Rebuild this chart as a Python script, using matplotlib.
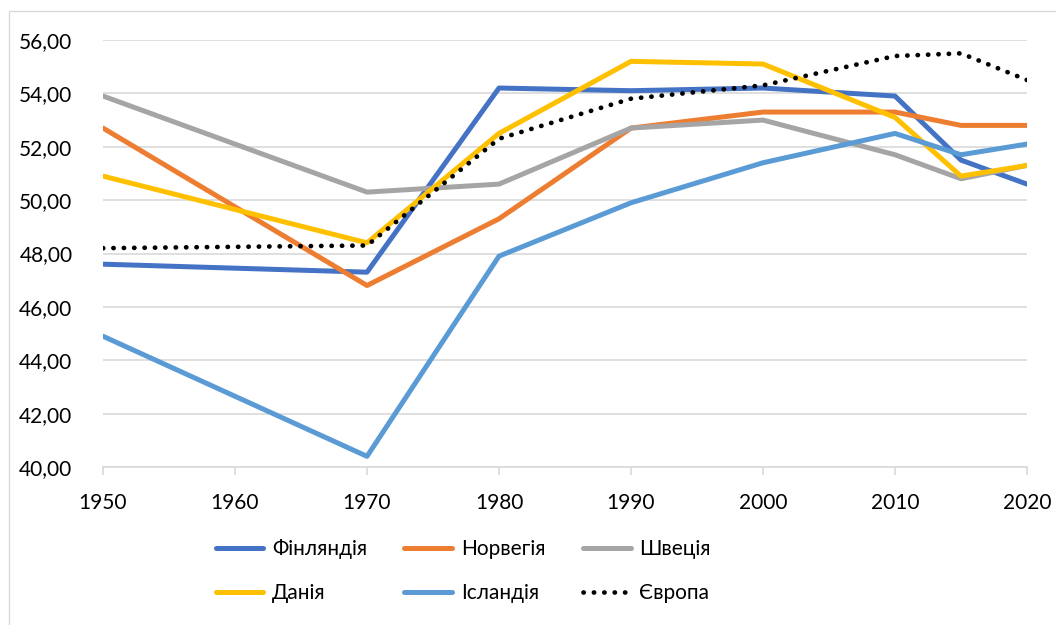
import matplotlib.pyplot as plt
from matplotlib.patches import Rectangle
from matplotlib.ticker import FuncFormatter

years = [1950, 1970, 1980, 1990, 2000, 2010, 2015, 2020]
finland = [47.6, 47.3, 54.2, 54.1, 54.2, 53.9, 51.5, 50.6]
norway = [52.7, 46.8, 49.3, 52.7, 53.3, 53.3, 52.8, 52.8]
sweden = [53.9, 50.3, 50.6, 52.7, 53.0, 51.7, 50.8, 51.3]
denmark = [50.9, 48.4, 52.5, 55.2, 55.1, 53.1, 50.9, 51.3]
iceland = [44.9, 40.4, 47.9, 49.9, 51.4, 52.5, 51.7, 52.1]
europe = [48.2, 48.3, 52.3, 53.8, 54.3, 55.4, 55.5, 54.5]

plt.rcParams['font.family'] = ['Lato', 'DejaVu Sans']

fig = plt.figure(figsize=(10.56, 6.25), dpi=100)
ax = fig.add_axes([103 / 1056, 1 - 467 / 625, 924 / 1056, 427 / 625])

# chart area border
fig.patches.append(Rectangle((9 / 1056, -0.05), 1.1, 1 - 11 / 625 + 0.05,
                             transform=fig.transFigure, fill=False,
                             edgecolor='#d9d9d9', linewidth=1))

lw = 3.6
l1, = ax.plot(years, finland, color='#4472C4', lw=lw, label='Фінляндія', solid_capstyle='round')
l2, = ax.plot(years, norway, color='#ED7D31', lw=lw, label='Норвегія', solid_capstyle='round')
l3, = ax.plot(years, sweden, color='#A5A5A5', lw=lw, label='Швеція', solid_capstyle='round')
l4, = ax.plot(years, denmark, color='#FFC000', lw=lw, label='Данія', solid_capstyle='round')
l5, = ax.plot(years, iceland, color='#5B9BD5', lw=lw, label='Ісландія', solid_capstyle='round')
l6, = ax.plot(years, europe, color='black', lw=3.4, linestyle=(0, (0.05, 2.15)),
              dash_capstyle='round', label='Європа')

ax.set_xlim(1950, 2020)
ax.set_ylim(40, 56)
ax.set_xticks(range(1950, 2021, 10))
ax.set_yticks(range(40, 57, 2))
ax.yaxis.set_major_formatter(FuncFormatter(lambda v, p: f'{v:.2f}'.replace('.', ',')))
ax.grid(axis='y', color='#d9d9d9', linewidth=1.2)
ax.set_axisbelow(True)
for s in ['top', 'right', 'left']:
    ax.spines[s].set_visible(False)
ax.spines['bottom'].set_color('#d9d9d9')
ax.spines['bottom'].set_linewidth(1.2)
ax.tick_params(axis='y', length=0, pad=22, labelsize=15)
ax.tick_params(axis='x', length=6, color='#d9d9d9', width=1.2, pad=13, labelsize=15)

handles = [l1, l4, l2, l5, l3, l6]
fig.legend(handles=handles, labels=[h.get_label() for h in handles], ncol=3,
           loc='center', bbox_to_anchor=(463 / 1056, 1 - 571 / 625), frameon=False,
           fontsize=15, handlelength=2.3, handletextpad=0.4, columnspacing=1.8,
           labelspacing=1.15)

fig.savefig('out.png', dpi=100)
